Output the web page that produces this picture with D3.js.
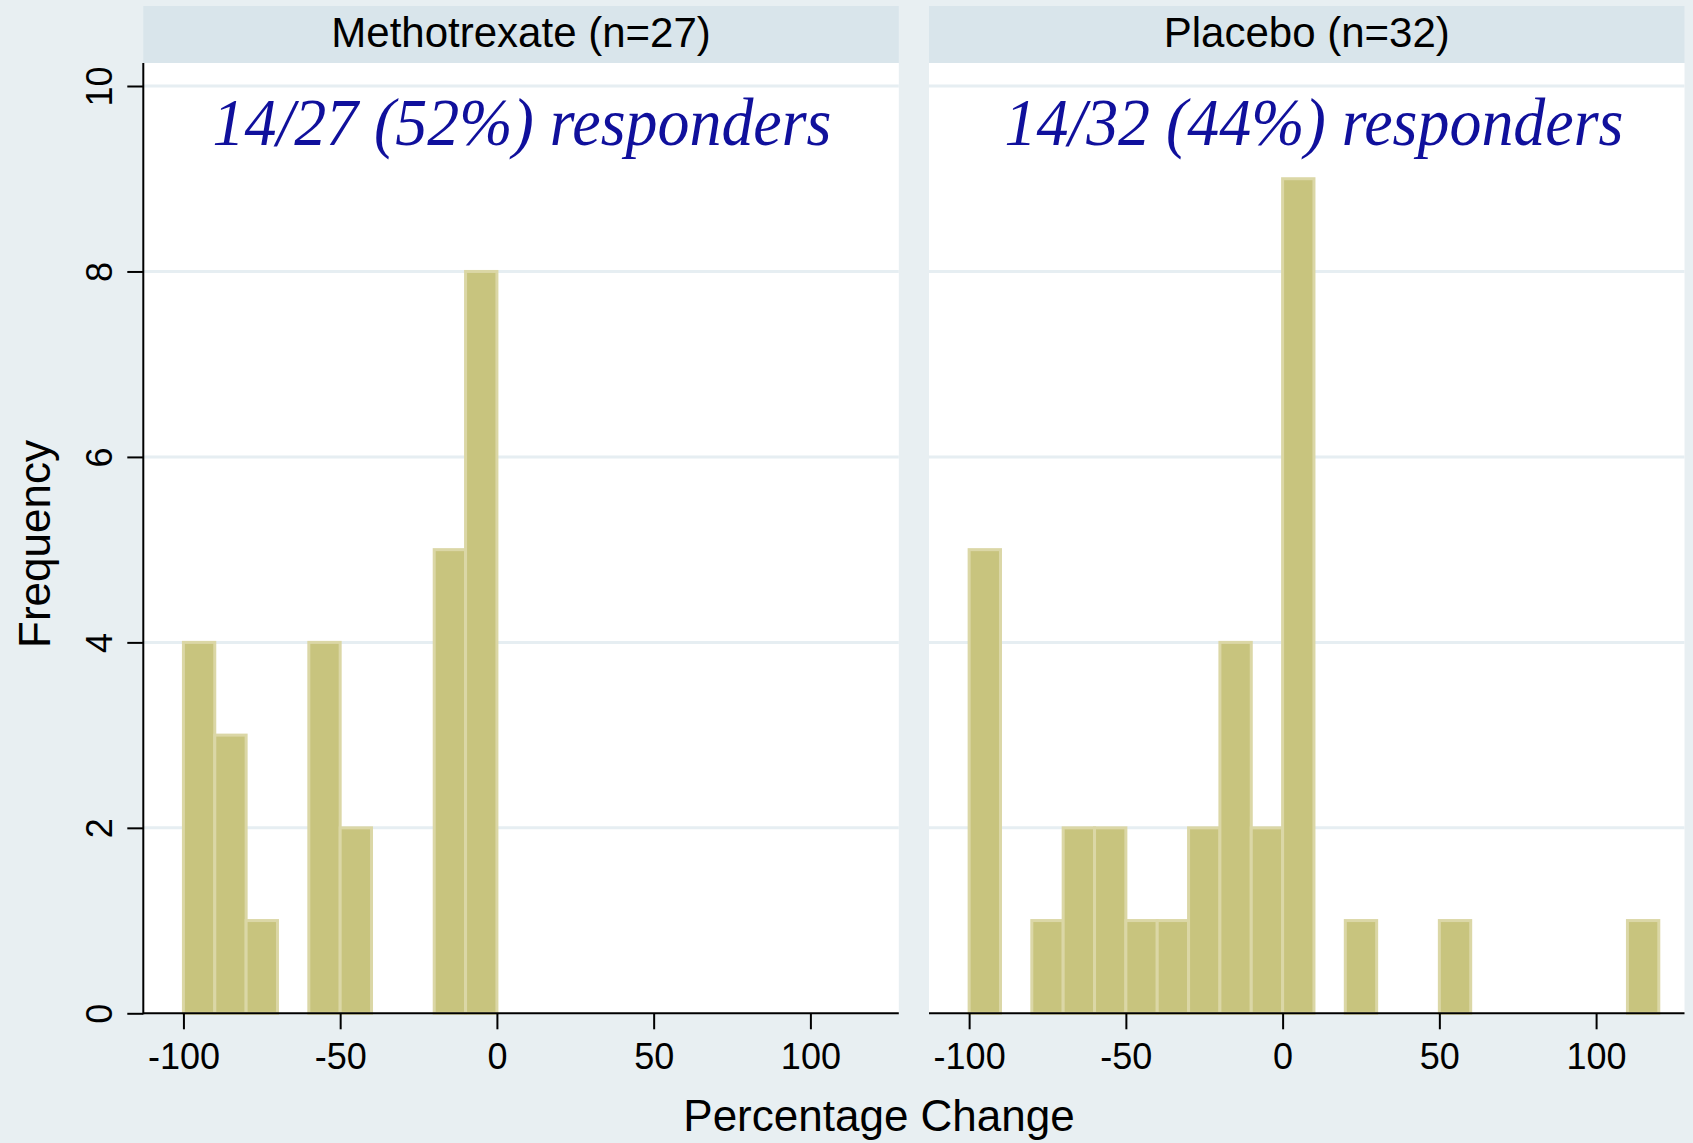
<!DOCTYPE html>
<html>
<head>
<meta charset="utf-8">
<script src="https://cdn.jsdelivr.net/npm/d3@7"></script>
<style>
  html, body { margin: 0; padding: 0; background: #e8eff2; }
  svg { display: block; }
</style>
</head>
<body>
<div id="chart"></div>
<script>
// Histogram bins: width 10, left edges from -100 to 110
const binStarts = [-100, -90, -80, -70, -60, -50, -40, -30, -20, -10, 0, 10, 20, 30, 40, 50, 60, 70, 80, 90, 100, 110];
const binWidth = 10;
const methotrexateCounts = [4, 3, 1, 0, 4, 2, 0, 0, 5, 8, 0, 0, 0, 0, 0, 0, 0, 0, 0, 0, 0, 0];
const placeboCounts      = [5, 0, 1, 2, 2, 1, 1, 2, 4, 2, 9, 0, 1, 0, 0, 1, 0, 0, 0, 0, 0, 1];

const panelTitles = ["Methotrexate (n=27)", "Placebo (n=32)"];
const responderLabels = ["14/27 (52%) responders", "14/32 (44%) responders"];
const xTicks = [-100, -50, 0, 50, 100];
const yTicks = [0, 2, 4, 6, 8, 10];
const xTitle = "Percentage Change";
const yTitle = "Frequency";

const W = 1693, H = 1143;
const colors = {
  background: "#e8eff2",
  strip: "#d9e5eb",
  plot: "#ffffff",
  grid: "#e6eef2",
  bar: "#c8c47e",
  barEdge: "#dbd7a6",
  axis: "#000000",
  label: "#10109c"
};

const svg = d3.select("#chart").append("svg")
  .attr("width", W).attr("height", H)
  .attr("viewBox", `0 0 ${W} ${H}`);

svg.append("rect").attr("width", W).attr("height", H).attr("fill", colors.background);

// Shared layout for the two panels
const panelLeft = [143.3, 929];
const panelWidth = 755.5;
const plotTop = 63, plotBottom = 1013.3;
const stripTop = 6;

const y = d3.scaleLinear().domain([0, 10]).range([plotBottom, 86]);

const panels = [
  { title: panelTitles[0], label: responderLabels[0], counts: methotrexateCounts, labelX: 8 },
  { title: panelTitles[1], label: responderLabels[1], counts: placeboCounts, labelX: 10 }
];

panels.forEach((p, i) => {
  const left = panelLeft[i];
  const x = d3.scaleLinear().domain([-112.8, 128.2]).range([left, left + panelWidth]);
  const g = svg.append("g");

  // title strip
  g.append("rect")
    .attr("x", left).attr("y", stripTop)
    .attr("width", panelWidth).attr("height", plotTop - stripTop)
    .attr("fill", colors.strip);
  g.append("text")
    .attr("x", left + panelWidth / 2).attr("y", 47)
    .attr("text-anchor", "middle")
    .attr("font-family", "Liberation Sans, Arial, sans-serif")
    .attr("font-size", 42)
    .attr("fill", "#000")
    .text(p.title);

  // plot area
  g.append("rect")
    .attr("x", left).attr("y", plotTop)
    .attr("width", panelWidth).attr("height", plotBottom - plotTop)
    .attr("fill", colors.plot);

  // horizontal gridlines
  g.selectAll("line.grid").data(yTicks.filter(t => t > 0)).enter()
    .append("line").attr("class", "grid")
    .attr("x1", left).attr("x2", left + panelWidth)
    .attr("y1", d => y(d)).attr("y2", d => y(d))
    .attr("stroke", colors.grid).attr("stroke-width", 3);

  // bars
  const bins = binStarts.map((s, k) => ({ x0: s, x1: s + binWidth, n: p.counts[k] })).filter(b => b.n > 0);
  g.selectAll("rect.bar").data(bins).enter()
    .append("rect").attr("class", "bar")
    .attr("x", d => x(d.x0))
    .attr("y", d => y(d.n))
    .attr("width", d => x(d.x1) - x(d.x0))
    .attr("height", d => y(0) - y(d.n))
    .attr("fill", colors.bar)
    .attr("stroke", colors.barEdge)
    .attr("stroke-width", 3);

  // x axis
  const xAxis = d3.axisBottom(x).tickValues(xTicks).tickSize(16).tickPadding(0).tickFormat(d3.format("d"));
  const xa = g.append("g").attr("transform", `translate(0,${plotBottom})`).call(xAxis);
  xa.select(".domain").remove();
  xa.append("line")
    .attr("x1", left).attr("x2", left + panelWidth)
    .attr("stroke", colors.axis).attr("stroke-width", 2);
  xa.selectAll(".tick line").attr("stroke", colors.axis).attr("stroke-width", 2);
  xa.selectAll(".tick text")
    .attr("y", 56).attr("dy", null)
    .attr("fill", "#000")
    .attr("font-family", "Liberation Sans, Arial, sans-serif")
    .attr("font-size", 36);
  xa.selectAll(".tick text").text(d => d < 0 ? "-" + Math.abs(d) : d);

  // y axis (left panel only)
  if (i === 0) {
    const yAxis = d3.axisLeft(y).tickValues(yTicks).tickSize(16).tickFormat(d3.format("d"));
    const ya = g.append("g").attr("transform", `translate(${left},0)`).call(yAxis);
    ya.select(".domain").remove();
    ya.append("line")
      .attr("y1", plotTop).attr("y2", plotBottom + 1)
      .attr("stroke", colors.axis).attr("stroke-width", 2);
    ya.selectAll(".tick line").attr("stroke", colors.axis).attr("stroke-width", 2);
    ya.selectAll(".tick text")
      .attr("x", null).attr("dy", null)
      .attr("transform", "translate(-31,0) rotate(-90)")
      .attr("text-anchor", "middle")
      .attr("fill", "#000")
      .attr("font-family", "Liberation Sans, Arial, sans-serif")
      .attr("font-size", 36);
  }

  // responder annotation
  g.append("text")
    .attr("x", x(p.labelX)).attr("y", 145)
    .attr("text-anchor", "middle")
    .attr("font-family", "Liberation Serif, Times New Roman, serif")
    .attr("font-style", "italic")
    .attr("font-size", 67)
    .attr("textLength", 619)
    .attr("lengthAdjust", "spacingAndGlyphs")
    .attr("fill", colors.label)
    .text(p.label);
});

// axis titles
svg.append("text")
  .attr("x", 879).attr("y", 1131)
  .attr("text-anchor", "middle")
  .attr("font-family", "Liberation Sans, Arial, sans-serif")
  .attr("font-size", 44)
  .attr("fill", "#000")
  .text(xTitle);

svg.append("text")
  .attr("transform", "translate(49.5,544) rotate(-90)")
  .attr("text-anchor", "middle")
  .attr("font-family", "Liberation Sans, Arial, sans-serif")
  .attr("font-size", 44)
  .attr("fill", "#000")
  .text(yTitle);
</script>
</body>
</html>
